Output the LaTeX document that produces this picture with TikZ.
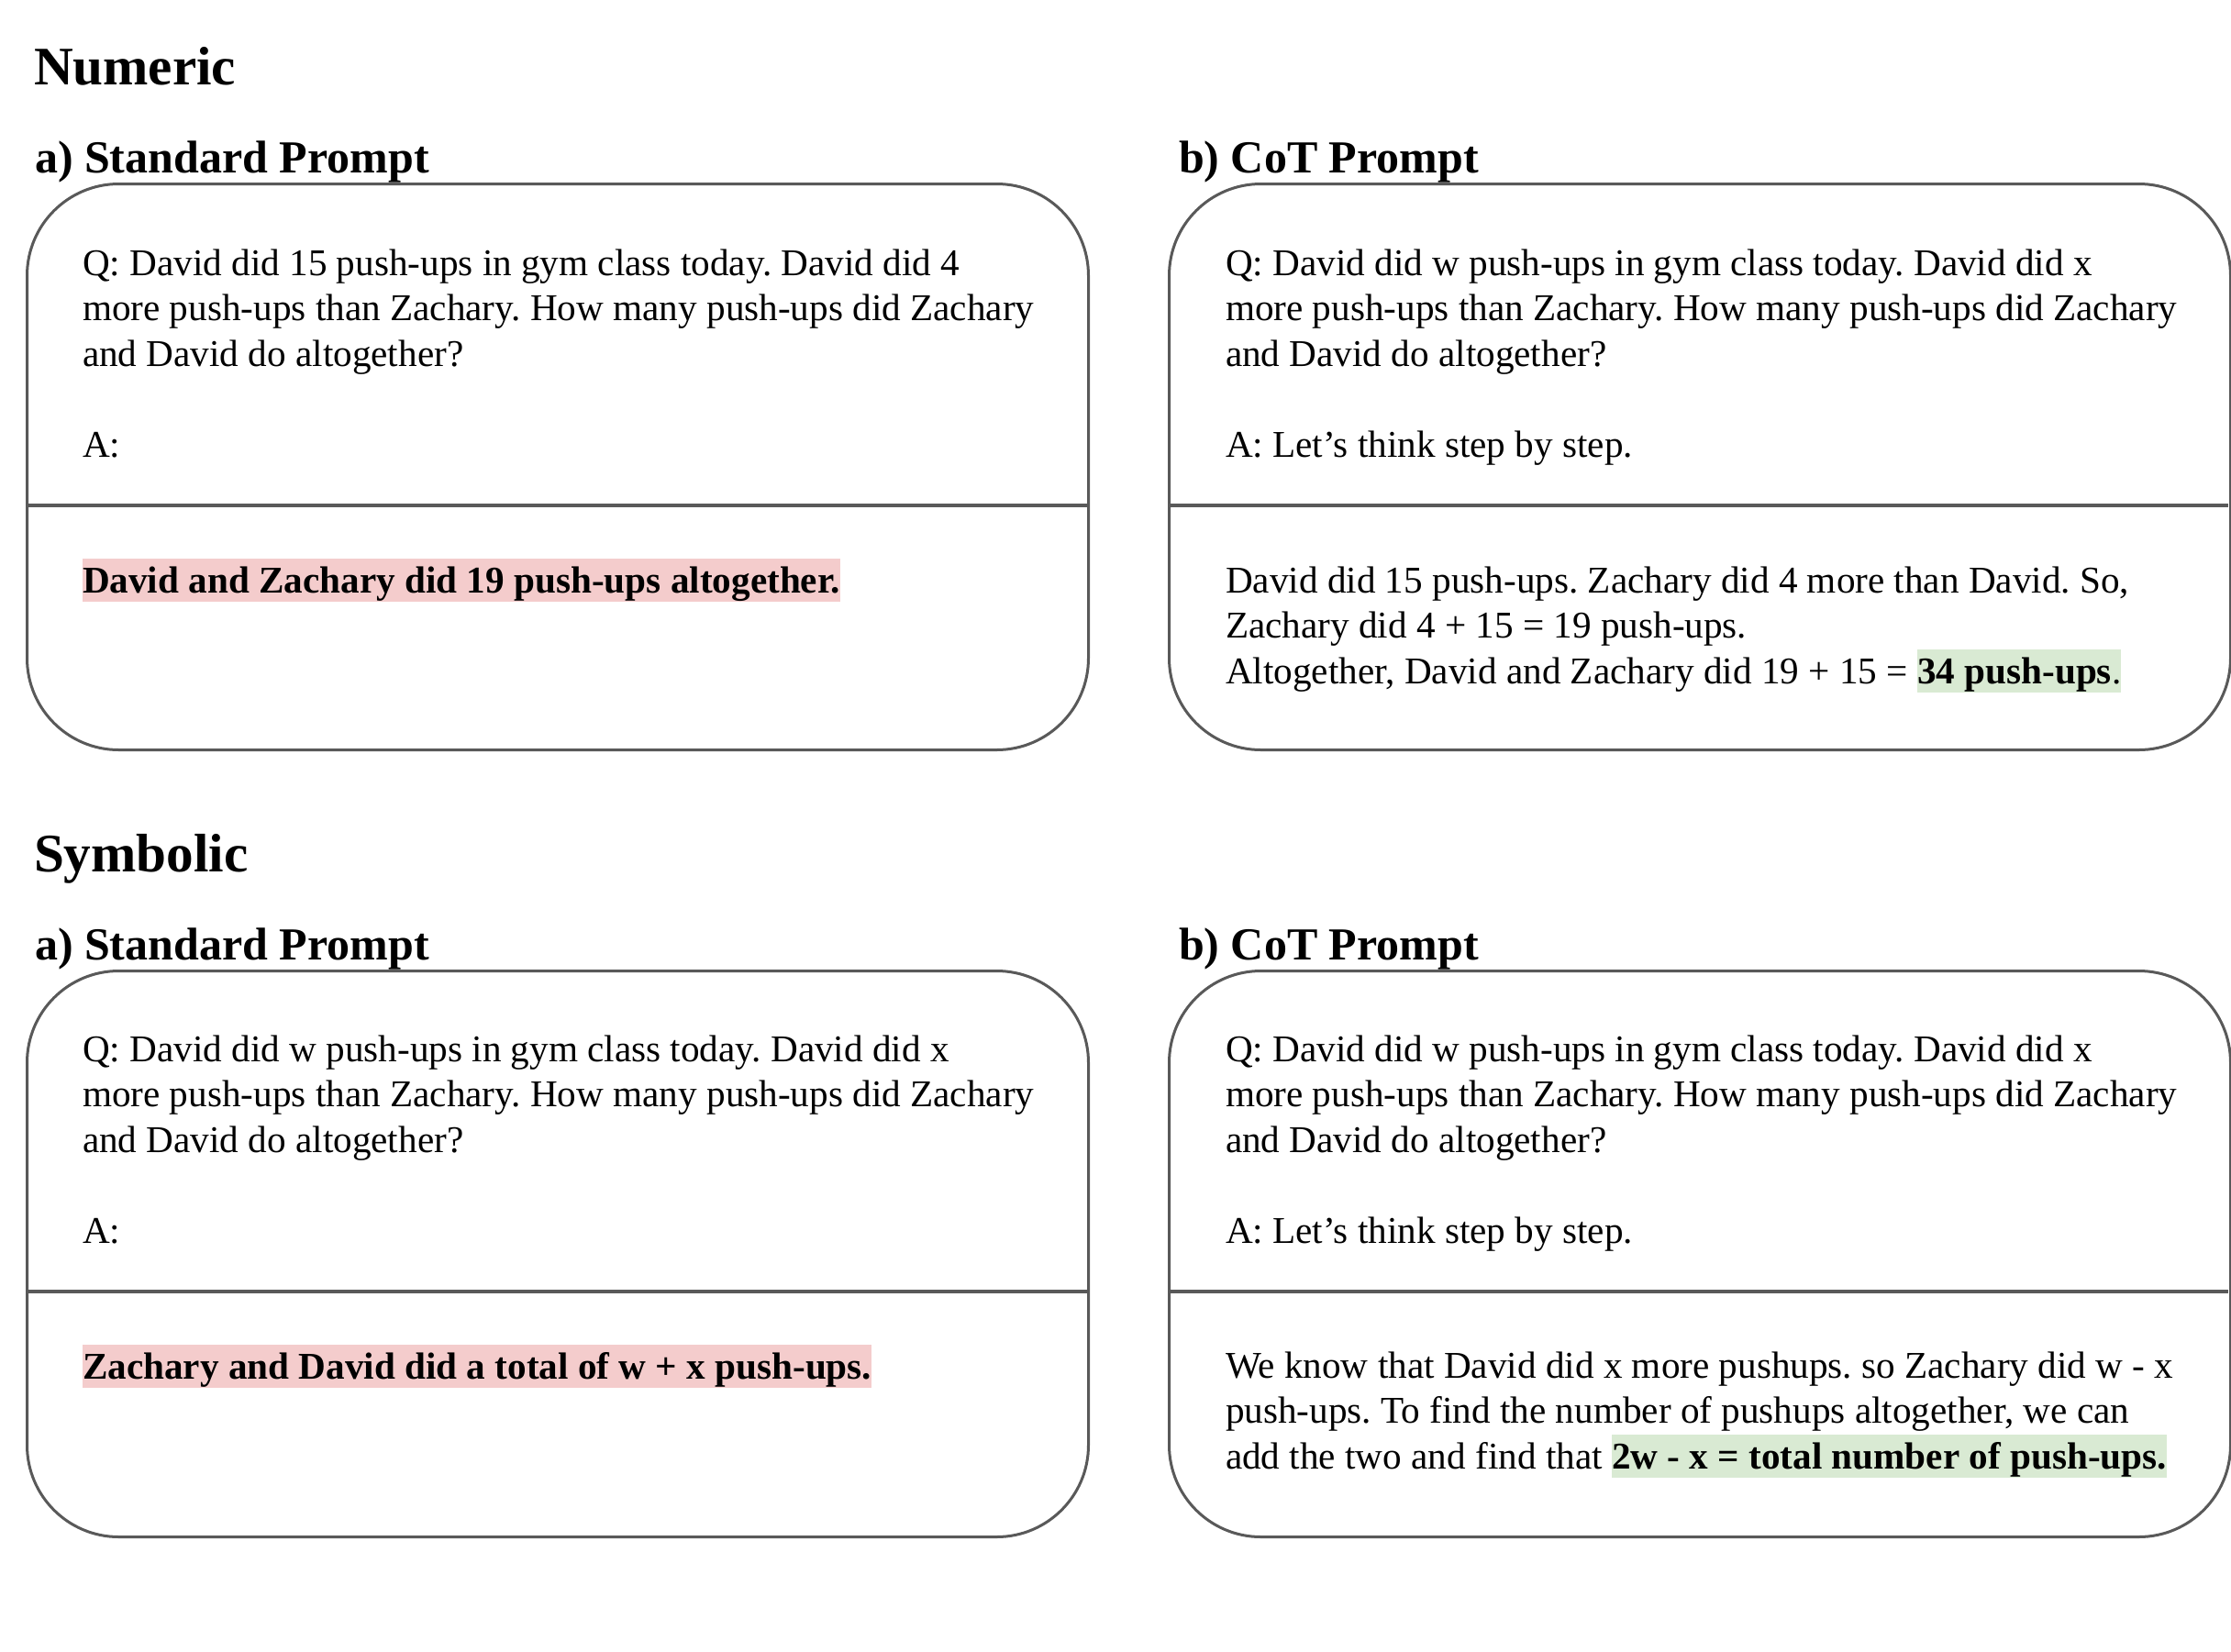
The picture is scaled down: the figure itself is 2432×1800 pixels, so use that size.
\documentclass[tikz,border=0pt]{standalone}
\usepackage{fontspec}
\setmainfont{Liberation Serif}
\frenchspacing
\definecolor{cardgray}{HTML}{595959}
\definecolor{hlpink}{HTML}{F4CCCC}
\definecolor{hlgreen}{HTML}{D9EAD3}
\newcommand\bodyfont{\fontsize{10.3pt}{12.4pt}\selectfont\frenchspacing}
\newcommand\subheadfont{\fontsize{12.5pt}{15pt}\selectfont\bfseries}
\newcommand\titlefont{\fontsize{14.8pt}{18pt}\selectfont\bfseries}
\newcommand\hlbox[2]{{\setlength\fboxsep{0pt}\colorbox{#1}{\rule[-2.5pt]{0pt}{11.75pt}#2}}}
\newcommand\qblock[5]{%
  \node[txt] (#1q1) at (#2,#3) {Q: David did #4 push-ups in gym class today. David did #5};
  \node[txt] (#1q2) at (#2,#3+49.5) {more push-ups than Zachary. How many push-ups did Zachary};
  \node[txt] (#1q3) at (#2,#3+99) {and David do altogether?};
}
\tikzset{
  card/.style={draw=cardgray, line width=0.75pt, rounded corners=25pt, anchor=north west,
    minimum width=289.25pt, minimum height=154.25pt, inner sep=0pt},
  divider/.style={draw=cardgray, line width=1pt},
  txt/.style={anchor=base west, inner sep=0pt, outer sep=0pt, font=\bodyfont},
  subhead/.style={anchor=base west, inner sep=0pt, outer sep=0pt, font=\subheadfont},
  sectitle/.style={anchor=base west, inner sep=0pt, outer sep=0pt, font=\titlefont},
}
\begin{document}
\begin{tikzpicture}[x=0.25pt, y=-0.25pt]
\useasboundingbox[fill=white] (0,0) rectangle (2432,1800);

% ---------------- Numeric ----------------
\node[sectitle] (tnum) at (37,92) {Numeric};
\node[subhead] (ha1) at (38,188) {a) Standard Prompt};
\node[subhead] (hb1) at (1285,188) {b) CoT Prompt};

\node[card] (boxa1) at (28,199) {};
\node[card] (boxb1) at (1273,199) {};
\coordinate (da1l) at (28,551); \coordinate (da1r) at (1185,551);
\coordinate (db1l) at (1273,551); \coordinate (db1r) at (2429,551);
\draw[divider] (da1l) -- (da1r);
\draw[divider] (db1l) -- (db1r);

\qblock{a1}{90}{300}{15}{4}
\node[txt] (a1a) at (90,498) {A:};
\node[txt] (a1r) at (90,646) {\hlbox{hlpink}{\textbf{David and Zachary did 19 push-ups altogether.}}};

\qblock{b1}{1336}{300}{w}{x}
\node[txt] (b1a) at (1336,498) {A: Let’s think step by step.};
\node[txt] (b1r1) at (1336,646) {David did 15 push-ups. Zachary did 4 more than David. So,};
\node[txt] (b1r2) at (1336,695.5) {Zachary did 4 + 15 = 19 push-ups.};
\node[txt] (b1r3) at (1336,745) {Altogether, David and Zachary did 19 + 15 = \hlbox{hlgreen}{\textbf{34 push-ups}.}};

% ---------------- Symbolic ----------------
\node[sectitle] (tsym) at (37,950) {Symbolic};
\node[subhead] (ha2) at (38,1046) {a) Standard Prompt};
\node[subhead] (hb2) at (1285,1046) {b) CoT Prompt};

\node[card] (boxa2) at (28,1057) {};
\node[card] (boxb2) at (1273,1057) {};
\coordinate (da2l) at (28,1408); \coordinate (da2r) at (1185,1408);
\coordinate (db2l) at (1273,1408); \coordinate (db2r) at (2429,1408);
\draw[divider] (da2l) -- (da2r);
\draw[divider] (db2l) -- (db2r);

\qblock{a2}{90}{1157}{w}{x}
\node[txt] (a2a) at (90,1355) {A:};
\node[txt] (a2r) at (90,1503) {\hlbox{hlpink}{\textbf{Zachary and David did a total of w + x push-ups.}}};

\qblock{b2}{1336}{1157}{w}{x}
\node[txt] (b2a) at (1336,1355) {A: Let’s think step by step.};
\node[txt] (b2r1) at (1336,1502) {We know that David did x more pushups. so Zachary did w - x};
\node[txt] (b2r2) at (1336,1551.5) {push-ups. To find the number of pushups altogether, we can};
\node[txt] (b2r3) at (1336,1601) {add the two and find that \hlbox{hlgreen}{\textbf{2w - x = total number of push-ups.}}};
\end{tikzpicture}
\end{document}
